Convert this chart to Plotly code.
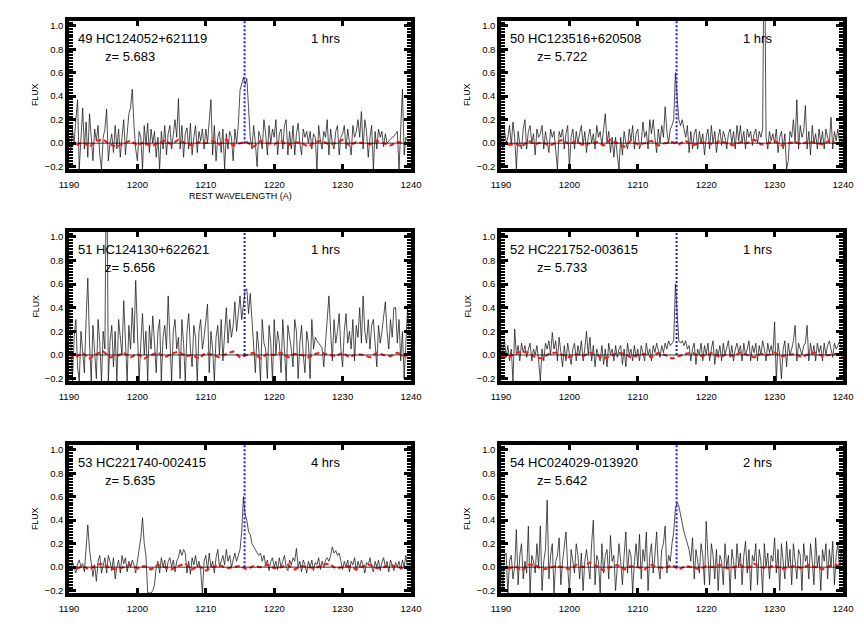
import plotly.graph_objects as go

W, H = 864, 637

# ---------------- data ----------------
WAVE_START, WAVE_STEP = 1190.0, 0.25
red_wave = list(range(1190, 1241))
LYA = 1215.67

ids = ["49", "50", "51", "52", "53", "54"]
names = ["HC124052+621119", "HC123516+620508", "HC124130+622621",
         "HC221752-003615", "HC221740-002415", "HC024029-013920"]
redshifts = ["5.683", "5.722", "5.656", "5.733", "5.635", "5.642"]
exptimes = ["1 hrs", "1 hrs", "1 hrs", "1 hrs", "4 hrs", "2 hrs"]

flux_49 = [
    0.05, -0.08, 0.12, 0.0, 0.2, 0.37, -0.22, 0.1, 0.3, -0.05, 0.18, -0.12, 0.25, 0.05, -0.15, 0.12, 0.02, 0.15, -0.1, -0.22,
    0.05, 0.12, 0.29, -0.15, 0.0, 0.08, -0.08, 0.15, -0.05, 0.12, -0.12, 0.05, 0.2, -0.1, 0.1, 0.25, 0.3, 0.46, 0.15, -0.05,
    -0.15, 0.1, 0.05, -0.22, 0.15, -0.02, 0.17, -0.08, 0.12, 0.0, 0.1, -0.12, 0.05, -0.22, 0.1, -0.05, 0.15, -0.1, 0.08, 0.15,
    -0.05, 0.1, 0.2, 0.05, 0.38, -0.05, 0.15, -0.12, 0.08, 0.13, -0.05, 0.17, -0.1, 0.05, 0.15, -0.08, 0.1, 0.02, 0.12, -0.05,
    0.12, 0.0, 0.2, 0.37, -0.1, 0.15, -0.15, 0.05, 0.1, -0.08, 0.12, -0.22, 0.08, -0.05, 0.1, 0.05, -0.15, 0.12, 0.0, 0.15,
    0.45, 0.52, 0.56, 0.5, 0.55, 0.3, 0.05, -0.05, 0.15, 0.0, -0.2, 0.1, 0.05, -0.05, 0.2, 0.08, -0.1, 0.15, 0.0, 0.12,
    0.05, 0.2, -0.1, 0.08, 0.12, -0.05, 0.15, 0.2, -0.1, 0.1, -0.05, 0.15, -0.1, 0.08, 0.17, 0.0, -0.1, 0.12, 0.05, 0.1,
    0.0, 0.1, -0.05, 0.08, 0.05, -0.22, 0.15, 0.02, -0.05, 0.1, 0.05, 0.2, -0.1, 0.12, 0.0, -0.05, 0.1, 0.15, -0.1, 0.05,
    0.08, 0.15, -0.05, 0.12, 0.02, -0.1, 0.15, 0.05, 0.1, 0.2, 0.05, 0.27, -0.05, 0.2, 0.1, -0.12, 0.05, 0.15, -0.22, 0.1,
    -0.05, 0.12, 0.05, 0.1, -0.03, 0.08, 0.0, 0.02, 0.03, 0.05, 0.06, 0.08, 0.1, -0.22, 0.1, 0.46, -0.1, 0.05, 0.02, 0.0,
    0.03]

flux_50 = [
    0.08, -0.05, 0.12, 0.0, 0.05, 0.15, -0.02, 0.18, 0.05, -0.22, 0.1, 0.0, -0.05, 0.12, 0.2, -0.05, 0.1, 0.15, 0.0, 0.08,
    -0.1, 0.12, 0.05, 0.08, 0.15, -0.05, 0.1, 0.0, -0.08, 0.12, 0.05, 0.1, -0.05, -0.22, 0.1, 0.05, 0.12, -0.05, 0.08, 0.15,
    -0.22, 0.05, 0.12, -0.05, 0.1, 0.0, 0.08, 0.15, -0.02, 0.1, -0.08, 0.05, 0.12, 0.0, 0.08, -0.05, 0.15, 0.05, 0.1, -0.02,
    0.12, 0.25, 0.0, 0.1, -0.08, 0.05, -0.12, 0.05, -0.1, -0.22, 0.05, -0.1, 0.1, 0.0, -0.05, 0.12, 0.02, 0.15, -0.05, 0.08,
    0.12, -0.05, 0.0, 0.18, 0.05, 0.1, -0.05, 0.2, 0.08, 0.2, 0.05, -0.08, 0.12, 0.0, 0.15, 0.05, 0.31, 0.1, 0.0, 0.12,
    0.15, 0.2, 0.6, 0.35, 0.2, 0.15, 0.2, 0.12, 0.05, 0.15, -0.08, 0.1, -0.05, 0.08, 0.12, -0.05, 0.1, 0.0, 0.08, -0.1,
    0.05, 0.12, -0.05, 0.15, 0.0, 0.1, -0.08, 0.05, 0.12, -0.02, 0.1, 0.05, -0.05, 0.08, 0.12, 0.0, 0.1, -0.05, 0.15, 0.02,
    0.15, 0.0, 0.1, -0.05, 0.12, 0.05, 0.1, -0.02, 0.08, 0.12, 0.0, 0.1, 0.05, 0.12, 2.0, 0.05, -0.05, 0.1, 0.02, 0.08,
    0.0, 0.12, -0.08, 0.05, 0.1, -0.05, 0.08, -0.22, -0.15, 0.1, 0.05, 0.2, 0.0, 0.37, -0.05, 0.15, 0.05, 0.1, 0.32, -0.05,
    0.1, -0.1, 0.15, 0.0, 0.08, -0.05, 0.12, 0.0, 0.1, -0.05, 0.12, 0.05, 0.0, 0.22, -0.05, 0.1, 0.02, 0.12, 0.0, 0.05,
    0.05]

flux_51 = [
    0.5, 0.1, -0.22, 0.15, 0.3, -0.1, -0.22, 0.2, 0.05, -0.15, 0.3, 0.65, 0.1, -0.22, 0.25, 0.05, -0.2, 0.3, 0.1, -0.22,
    0.2, 0.05, 2.0, -0.22, 0.12, 0.25, -0.1, 0.2, -0.22, 0.3, 0.15, 0.0, 0.46, 0.1, -0.22, 0.25, 0.05, 0.4, 0.1, 0.63,
    0.2, -0.22, 0.1, 0.35, 0.0, 0.2, -0.22, 0.25, 0.05, 0.33, 0.1, -0.15, 0.2, 0.3, -0.22, 0.15, 0.25, 0.05, 0.5, 0.1,
    -0.22, 0.2, 0.3, 0.05, 0.15, -0.2, 0.3, 0.1, -0.22, 0.2, 0.35, 0.05, -0.1, 0.25, 0.15, -0.22, 0.2, 0.3, 0.05, 0.15,
    0.3, 0.43, -0.15, 0.2, 0.05, -0.22, 0.15, 0.25, 0.0, 0.3, -0.05, 0.2, 0.4, 0.1, 0.3, 0.15, 0.25, 0.45, 0.2, 0.35,
    0.5, 0.3, 0.45, 0.55, 0.56, 0.35, 0.52, 0.3, 0.1, -0.15, 0.2, 0.05, -0.22, 0.3, 0.1, 0.05, -0.2, 0.25, 0.1, -0.22,
    0.3, 0.0, 0.2, 0.1, -0.15, 0.3, 0.05, -0.22, 0.25, 0.15, 0.05, -0.1, 0.3, 0.2, -0.2, 0.1, 0.25, 0.0, -0.15, 0.2,
    0.1, -0.2, 0.3, 0.05, 0.15, 0.12, 0.1, 0.08, 0.06, -0.1, 0.1, 0.3, 0.5, 0.2, -0.05, 0.3, 0.1, 0.2, 0.35, 0.05,
    -0.1, 0.2, 0.35, 0.1, 0.2, 0.05, 0.3, -0.05, 0.25, 0.15, 0.4, 0.1, 0.5, 0.2, 0.1, 0.3, 0.05, 0.25, 0.3, 0.1,
    -0.1, 0.25, 0.1, 0.2, 0.35, 0.45, 0.2, 0.05, 0.3, 0.15, 0.4, 0.4, 0.1, 0.3, -0.05, 0.2, -0.2, 0.1, 0.4, 0.15,
    0.2]

flux_52 = [
    0.1, 0.02, 0.13, -0.02, 0.08, -0.05, 0.05, -0.22, 0.22, 0.0, 0.08, -0.05, 0.1, 0.02, 0.08, -0.02, 0.05, 0.1, -0.05, 0.05,
    0.0, 0.08, -0.05, -0.22, 0.05, -0.05, 0.1, 0.05, 0.12, 0.0, 0.19, 0.05, 0.12, -0.05, 0.15, 0.0, -0.1, 0.08, -0.05, 0.1,
    0.0, -0.08, 0.05, 0.1, -0.05, 0.08, 0.0, 0.12, -0.05, 0.05, 0.2, 0.0, 0.15, -0.05, 0.08, -0.1, 0.05, 0.0, -0.05, 0.08,
    -0.08, 0.05, -0.1, 0.1, 0.0, 0.05, -0.05, 0.08, -0.02, 0.05, 0.08, -0.08, 0.05, -0.1, 0.1, 0.0, 0.05, -0.05, 0.08, -0.02,
    0.05, -0.05, 0.08, 0.02, -0.05, 0.1, 0.0, 0.05, -0.05, 0.08, 0.02, 0.1, 0.05, -0.02, 0.08, 0.02, 0.1, 0.05, 0.12, 0.08,
    0.1, 0.12, 0.6, 0.36, 0.12, 0.1, 0.12, 0.08, 0.12, 0.05, 0.08, -0.05, 0.05, 0.1, -0.08, 0.05, 0.0, 0.1, -0.05, 0.08,
    0.0, 0.1, -0.05, 0.05, 0.12, -0.08, 0.05, 0.0, 0.08, -0.05, 0.1, 0.0, 0.05, 0.12, -0.02, 0.08, -0.05, 0.05, 0.1, 0.02,
    0.08, -0.05, 0.1, 0.0, 0.05, 0.12, -0.05, 0.08, 0.02, 0.1, -0.05, 0.08, 0.0, 0.12, 0.05, -0.05, 0.1, 0.02, 0.08, 0.0,
    0.28, -0.22, 0.1, 0.0, -0.2, 0.05, 0.12, -0.1, 0.1, 0.0, 0.05, 0.12, 0.25, -0.05, 0.1, 0.05, 0.0, 0.08, 0.1, 0.25,
    -0.05, 0.1, 0.0, 0.08, -0.05, 0.1, 0.02, 0.08, -0.05, 0.1, 0.0, 0.08, 0.12, 0.05, -0.02, 0.1, 0.05, 0.08, 0.12, 0.05,
    0.08]

flux_53 = [
    0.02, -0.03, 0.05, 0.0, -0.05, 0.03, 0.06, 0.0, 0.03, -0.04, 0.2, 0.36, 0.15, 0.05, -0.08, 0.02, -0.12, 0.05, 0.1, -0.05,
    0.02, 0.08, -0.05, 0.1, 0.05, -0.03, 0.08, -0.1, 0.0, 0.06, -0.05, 0.1, 0.03, 0.08, -0.04, 0.05, 0.0, 0.06, 0.02, -0.05,
    0.05, 0.15, 0.25, 0.42, 0.2, 0.1, -0.22, -0.22, -0.22, -0.2, -0.15, 0.0, 0.05, -0.05, 0.08, 0.0, 0.06, -0.04, 0.05, 0.08,
    0.0, 0.06, -0.04, 0.05, 0.08, 0.15, 0.1, 0.15, 0.12, -0.05, 0.05, -0.06, 0.08, 0.02, 0.1, 0.0, 0.05, -0.03, -0.22, 0.05,
    0.1, -0.03, 0.12, 0.0, 0.05, -0.05, 0.08, 0.15, 0.0, 0.05, 0.1, 0.02, 0.15, 0.05, 0.1, 0.0, 0.05, 0.12, 0.05, 0.1,
    0.15, 0.3, 0.6, 0.45, 0.4, 0.3, 0.28, 0.2, 0.18, 0.15, 0.12, 0.1, 0.12, 0.05, 0.1, 0.02, 0.06, -0.03, 0.05, 0.08,
    0.0, 0.05, -0.02, 0.08, 0.0, 0.05, 0.1, 0.0, -0.03, 0.06, 0.02, 0.08, 0.05, 0.16, 0.0, 0.05, -0.04, 0.06, 0.02, -0.05,
    0.05, 0.0, 0.06, -0.03, 0.04, 0.02, 0.08, -0.02, 0.05, 0.0, 0.06, 0.08, 0.05, 0.1, 0.17, 0.12, 0.14, 0.1, 0.12, 0.05,
    -0.02, 0.05, 0.0, 0.06, -0.04, 0.05, 0.02, 0.08, -0.03, 0.05, 0.0, 0.06, 0.02, -0.05, 0.04, 0.02, 0.08, 0.0, -0.04, 0.05,
    0.0, 0.06, -0.03, 0.04, 0.08, 0.0, 0.05, -0.04, 0.06, 0.02, -0.03, 0.04, 0.0, 0.05, -0.02, 0.06, 0.0, 0.1, -0.03, 0.02,
    0.04]

flux_54 = [
    0.05, -0.2, 0.1, 0.12, -0.22, 0.05, 0.1, -0.1, 0.0, 0.32, -0.15, 0.1, 0.2, -0.1, 0.05, -0.05, 0.35, -0.22, 0.1, 0.05,
    -0.05, 0.2, 0.0, 0.35, -0.2, 0.05, 0.15, 0.57, -0.1, 0.1, 0.2, -0.22, 0.05, 0.1, 0.25, -0.15, 0.05, 0.2, 0.3, 0.0,
    -0.22, 0.15, 0.05, -0.05, 0.2, 0.1, -0.1, 0.12, -0.2, 0.05, 0.15, 0.0, -0.1, 0.2, 0.4, -0.15, 0.1, 0.05, -0.22, 0.2,
    -0.05, 0.1, 0.15, -0.1, 0.27, 0.05, 0.1, -0.2, 0.0, 0.2, 0.05, -0.15, 0.1, 0.3, -0.05, 0.15, 0.1, -0.22, 0.05, 0.2,
    0.0, 0.28, -0.1, 0.15, 0.05, 0.3, -0.2, 0.1, 0.2, -0.05, 0.1, 0.3, 0.0, -0.1, 0.15, 0.2, 0.35, -0.05, 0.1, 0.05,
    0.2, 0.3, 0.5, 0.55, 0.52, 0.45, 0.35, 0.3, 0.25, 0.2, 0.15, 0.05, 0.25, -0.1, 0.15, 0.05, -0.05, 0.2, 0.1, -0.15,
    0.39, 0.1, -0.15, 0.2, 0.1, -0.1, 0.15, -0.2, 0.1, 0.05, -0.15, 0.2, 0.0, 0.1, -0.22, 0.15, 0.05, -0.1, 0.2, 0.0,
    0.12, -0.15, 0.1, 0.22, -0.05, 0.15, -0.2, 0.1, 0.05, 0.2, -0.15, 0.15, 0.05, -0.22, 0.2, 0.0, 0.12, -0.1, 0.1, 0.05,
    0.25, -0.05, 0.15, -0.2, 0.2, 0.05, -0.1, 0.22, 0.0, 0.15, -0.15, 0.2, 0.05, -0.1, 0.15, 0.1, -0.2, 0.2, 0.05, 0.1,
    -0.1, 0.2, 0.05, -0.15, 0.25, 0.0, 0.1, -0.2, 0.15, 0.05, 0.2, -0.1, 0.15, 0.0, 0.22, -0.15, 0.1, 0.2, -0.05, 0.15,
    0.0]

red_49 = [
    0.0, -0.02, 0.01, -0.03, 0.02, 0.03, -0.01, -0.03, 0.0, 0.02,
    -0.02, 0.01, -0.03, 0.0, 0.02, -0.01, 0.03, 0.0, -0.02, 0.01,
    0.0, 0.02, -0.01, 0.03, -0.02, 0.0, 0.01, -0.03, 0.02, 0.0,
    -0.01, 0.02, -0.02, 0.01, 0.0, -0.03, 0.01, 0.02, -0.01, 0.0,
    0.03, -0.02, 0.01, 0.0, -0.01, 0.02, 0.0, -0.02, 0.01, 0.0,
    0.01]
red_50 = [
    0.01, -0.02, 0.0, -0.03, 0.02, -0.01, 0.01, -0.02, 0.0, 0.03,
    -0.01, 0.02, -0.02, 0.0, 0.01, -0.02, 0.03, 0.0, -0.03, 0.02,
    -0.01, 0.0, 0.02, -0.02, 0.0, 0.01, -0.01, 0.02, -0.02, 0.0,
    0.01, -0.01, 0.02, 0.0, -0.02, 0.01, 0.0, 0.03, -0.01, 0.0,
    0.02, -0.02, 0.0, 0.01, -0.01, 0.02, 0.0, -0.01, 0.02, 0.0,
    0.01]
red_51 = [
    0.0, -0.02, 0.02, -0.03, 0.01, 0.03, -0.02, -0.01, 0.02, -0.02,
    0.01, -0.03, 0.0, 0.02, -0.02, 0.01, 0.03, -0.01, 0.0, -0.03,
    0.02, 0.0, -0.02, 0.01, 0.03, -0.02, 0.0, 0.02, -0.03, 0.01,
    0.0, 0.02, -0.02, 0.01, 0.0, -0.02, 0.01, 0.02, 0.0, -0.01,
    0.02, -0.02, 0.01, 0.0, -0.02, 0.02, 0.0, -0.01, 0.02, -0.01,
    0.0]
red_52 = [
    -0.01, -0.02, 0.01, 0.03, 0.02, -0.02, -0.03, 0.01, 0.02, 0.0,
    -0.02, 0.01, -0.01, 0.02, 0.0, -0.03, -0.01, 0.02, 0.01, -0.02,
    0.0, 0.01, -0.02, 0.02, 0.0, -0.03, -0.01, 0.01, 0.02, -0.01,
    0.0, 0.02, -0.02, 0.01, -0.01, 0.02, 0.0, -0.02, 0.01, 0.0,
    0.02, -0.01, 0.0, 0.01, -0.02, 0.01, 0.02, -0.01, 0.0, 0.01,
    -0.01]
red_53 = [
    0.0, -0.02, 0.01, -0.02, 0.02, 0.03, -0.01, -0.02, 0.0, 0.02,
    -0.01, 0.01, -0.02, 0.02, 0.0, -0.02, 0.01, 0.03, -0.02, 0.01,
    -0.03, 0.0, 0.02, -0.01, 0.0, 0.01, -0.02, 0.01, 0.0, 0.02,
    -0.01, 0.0, 0.02, -0.02, 0.01, 0.0, -0.01, 0.02, 0.03, -0.01,
    0.0, 0.01, -0.02, 0.01, 0.02, -0.01, 0.0, 0.02, 0.0, -0.01,
    0.01]
red_54 = [
    0.0, -0.02, 0.01, -0.03, 0.02, 0.02, -0.02, -0.01, 0.01, 0.0,
    -0.02, 0.02, 0.0, 0.04, 0.01, -0.03, 0.0, 0.02, -0.02, 0.01,
    0.0, -0.02, 0.02, 0.0, -0.01, 0.02, -0.02, 0.01, 0.0, -0.02,
    0.01, 0.0, 0.02, -0.01, 0.0, 0.02, -0.01, 0.03, 0.0, -0.01,
    0.02, -0.02, 0.0, 0.01, -0.01, 0.02, 0.0, -0.02, 0.01, 0.02,
    -0.01]

fluxes = [flux_49, flux_50, flux_51, flux_52, flux_53, flux_54]
reds = [red_49, red_50, red_51, red_52, red_53, red_54]

XRANGE = [1190, 1240]
YRANGE = [-0.22, 1.04]

# ---------------- layout geometry (pixels, in screenshot coordinates) ----------------
PAGE_OFF = 8   # page body margin offsets the figure in the screenshot
COLS = [(69, 411), (501, 843)]
ROWS = [(21, 169), (232, 381), (445, 593)]

def px_x(p):
    return (p - PAGE_OFF) / W

def px_y(p):
    return 1 - (p - PAGE_OFF) / H

FONT = "Liberation Sans, Arial, Helvetica, sans-serif"

fig = go.Figure()
annotations = []
layout = dict(
    width=W, height=H,
    margin=dict(l=0, r=0, t=0, b=0, pad=0, autoexpand=False),
    paper_bgcolor="white", plot_bgcolor="white",
    showlegend=False,
    font=dict(family=FONT, color="black"),
)

for k in range(6):
    r, c = divmod(k, 2)
    (x0, x1), (y0, y1) = COLS[c], ROWS[r]
    n = k + 1
    xa = "x" if n == 1 else f"x{n}"
    ya = "y" if n == 1 else f"y{n}"
    xkey = "xaxis" if n == 1 else f"xaxis{n}"
    ykey = "yaxis" if n == 1 else f"yaxis{n}"

    layout[xkey] = dict(
        domain=[px_x(x0), px_x(x1)], anchor=ya, range=XRANGE,
        tickmode="linear", tick0=1190, dtick=10,
        ticks="inside", ticklen=5, tickwidth=2.5, tickcolor="black",
        showline=True, linewidth=3.5, linecolor="black", mirror="allticks",
        showgrid=False, zeroline=False, automargin=False,
        tickfont=dict(size=9.5, family=FONT, color="black"),
        ticklabelstandoff=4,
    )
    layout[ykey] = dict(
        domain=[px_y(y1), px_y(y0)], anchor=xa, range=YRANGE,
        tickmode="linear", tick0=-0.2, dtick=0.2, tickformat=".1f",
        ticks="inside", ticklen=7, tickwidth=2.5, tickcolor="black",
        minor=dict(dtick=0.025, tick0=0, ticks="inside", ticklen=4,
                   tickwidth=1.5, tickcolor="black", showgrid=False),
        showline=True, linewidth=3.5, linecolor="black", mirror="allticks",
        showgrid=False, zeroline=False, automargin=False,
        tickfont=dict(size=9.5, family=FONT, color="black"),
    )

    flux = fluxes[k]
    wave = [round(WAVE_START + WAVE_STEP * i, 2) for i in range(len(flux))]

    # zero line
    fig.add_shape(type="line", xref=f"{xa} domain", yref=ya,
                  x0=0, x1=1, y0=0, y1=0,
                  line=dict(color="black", width=0.8), layer="above")
    # spectrum
    fig.add_trace(go.Scatter(x=wave, y=flux, xaxis=xa, yaxis=ya,
                             mode="lines", line=dict(color="#151515", width=0.75),
                             hoverinfo="skip"))
    # red dashed
    fig.add_trace(go.Scatter(x=red_wave, y=reds[k], xaxis=xa, yaxis=ya,
                             mode="lines",
                             line=dict(color="#ff1a1a", width=2, dash="5px,3px"),
                             hoverinfo="skip"))
    # Lyman alpha marker
    fig.add_trace(go.Scatter(x=[LYA, LYA], y=[0, YRANGE[1] + 0.1], xaxis=xa, yaxis=ya,
                             mode="lines",
                             line=dict(color="#1a1aff", width=2, dash="2px,2px"),
                             hoverinfo="skip"))

    annotations.append(dict(text=f"{ids[k]} {names[k]}", xref="paper", yref="paper",
                            x=px_x(x0 + 7), y=px_y(y0 + 17.5), xanchor="left", yanchor="middle",
                            showarrow=False, font=dict(size=13, family=FONT, color="black")))
    annotations.append(dict(text=f"z= {redshifts[k]}", xref="paper", yref="paper",
                            x=px_x(x0 + 34), y=px_y(y0 + 35.5), xanchor="left", yanchor="middle",
                            showarrow=False, font=dict(size=13, family=FONT, color="black")))
    annotations.append(dict(text=exptimes[k], xref="paper", yref="paper",
                            x=px_x(x0 + 240), y=px_y(y0 + 17.5), xanchor="left", yanchor="middle",
                            showarrow=False, font=dict(size=13, family=FONT, color="black")))
    annotations.append(dict(text="FLUX", xref="paper", yref="paper",
                            x=px_x(x0 - 34), y=px_y((y0 + y1) / 2), xanchor="center", yanchor="middle",
                            textangle=-90, showarrow=False,
                            font=dict(size=8.8, family=FONT, color="black")))

annotations.append(dict(text="REST WAVELENGTH (A)", xref="paper", yref="paper",
                        x=px_x((COLS[0][0] + COLS[0][1]) / 2), y=px_y(196),
                        xanchor="center", yanchor="middle", showarrow=False,
                        font=dict(size=9, family=FONT, color="black")))

layout["annotations"] = annotations
fig.update_layout(**layout)
fig.write_html("out.html")
